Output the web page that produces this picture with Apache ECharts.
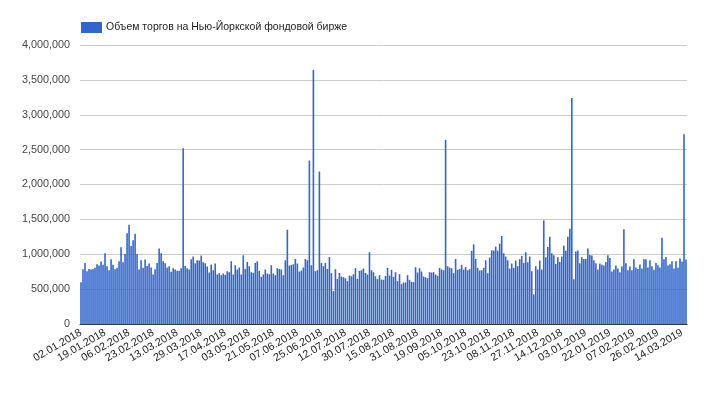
<!DOCTYPE html>
<html>
<head>
<meta charset="utf-8">
<script src="https://cdn.jsdelivr.net/npm/echarts@6/dist/echarts.min.js"></script>
<style>
html,body{margin:0;padding:0;background:#fff;}
#chart{width:717px;height:395px;}
</style>
</head>
<body>
<div id="chart"></div>
<script>
// Trading days: first session, number of sessions, market holidays (skipped)
const startDate = '2018-01-02';
const sessionCount = 303;
const holidays = ['2018-01-15','2018-02-19','2018-03-30','2018-05-28','2018-07-04','2018-09-03',
  '2018-11-22','2018-12-05','2018-12-25','2019-01-01','2019-01-21','2019-02-18'];

const seriesName = 'Объем торгов на Нью-Йоркской фондовой бирже';

const volume = [
  600000, 786000, 876000, 757000, 790000, 781000, 790000, 805000, 857000, 838000,
  895000, 848000, 1014000, 828000, 771000, 929000, 848000, 786000, 805000, 900000,
  1100000, 886000, 1005000, 1300000, 1424000, 1119000, 1200000, 1295000, 1005000, 781000,
  914000, 805000, 924000, 833000, 867000, 810000, 710000, 786000, 876000, 1081000,
  1014000, 900000, 871000, 810000, 828000, 748000, 800000, 781000, 762000, 762000,
  800000, 2520000, 833000, 800000, 781000, 929000, 967000, 871000, 914000, 910000,
  981000, 886000, 871000, 824000, 738000, 852000, 771000, 867000, 710000, 729000,
  700000, 724000, 705000, 757000, 743000, 900000, 710000, 843000, 781000, 810000,
  710000, 986000, 790000, 890000, 829000, 743000, 733000, 876000, 900000, 762000,
  676000, 710000, 781000, 724000, 714000, 843000, 724000, 700000, 800000, 790000,
  781000, 700000, 914000, 1352000, 838000, 848000, 857000, 933000, 867000, 752000,
  767000, 810000, 933000, 914000, 2343000, 843000, 3643000, 757000, 771000, 2186000,
  876000, 829000, 876000, 790000, 960000, 729000, 471000, 786000, 645000, 731000,
  681000, 671000, 657000, 614000, 695000, 686000, 714000, 800000, 648000, 762000,
  771000, 795000, 733000, 710000, 1029000, 771000, 743000, 686000, 643000, 700000,
  638000, 633000, 690000, 805000, 695000, 776000, 676000, 743000, 614000, 714000,
  571000, 595000, 595000, 700000, 633000, 605000, 600000, 814000, 738000, 800000,
  752000, 681000, 671000, 657000, 743000, 738000, 743000, 710000, 690000, 805000,
  781000, 771000, 2640000, 829000, 810000, 800000, 729000, 933000, 776000, 790000,
  848000, 781000, 817000, 771000, 786000, 1048000, 1143000, 933000, 805000, 767000,
  771000, 805000, 914000, 729000, 952000, 1057000, 1052000, 1110000, 1052000, 1152000,
  1262000, 1014000, 967000, 914000, 795000, 867000, 805000, 910000, 829000, 929000,
  976000, 876000, 1029000, 886000, 967000, 757000, 424000, 829000, 781000, 910000,
  781000, 1486000, 957000, 1105000, 1252000, 1014000, 986000, 862000, 957000, 890000,
  967000, 1124000, 1052000, 1252000, 1367000, 3240000, 643000, 1038000, 1052000, 871000,
  957000, 933000, 933000, 1081000, 990000, 981000, 914000, 871000, 781000, 867000,
  848000, 838000, 890000, 986000, 948000, 752000, 781000, 838000, 795000, 743000,
  826000, 1357000, 871000, 771000, 824000, 771000, 929000, 810000, 790000, 852000,
  795000, 929000, 929000, 810000, 914000, 829000, 776000, 876000, 843000, 810000,
  1238000, 929000, 962000, 838000, 857000, 900000, 795000, 900000, 805000, 938000,
  895000, 2720000, 924000
];

function pad(n){ return (n < 10 ? '0' : '') + n; }
function buildSessions(start, count, skip){
  const out = [];
  const d = new Date(start + 'T00:00:00Z');
  while (out.length < count){
    const wd = d.getUTCDay();
    const iso = d.getUTCFullYear() + '-' + pad(d.getUTCMonth()+1) + '-' + pad(d.getUTCDate());
    if (wd !== 0 && wd !== 6 && skip.indexOf(iso) < 0){
      out.push(pad(d.getUTCDate()) + '.' + pad(d.getUTCMonth()+1) + '.' + d.getUTCFullYear());
    }
    d.setUTCDate(d.getUTCDate() + 1);
  }
  return out;
}
const categories = buildSessions(startDate, sessionCount, holidays);

const FONT = 'Arial, "Liberation Sans", sans-serif';
const chart = echarts.init(document.getElementById('chart'), null, {renderer:'canvas'});
chart.setOption({
  animation: false,
  textStyle: { fontFamily: FONT },
  legend: {
    data: [seriesName],
    left: 76, top: 17,
    itemWidth: 21, itemHeight: 11, itemGap: 5,
    textStyle: { fontSize: 10.5, color: '#222', fontFamily: FONT, padding: [0, 0, 0, -1] },
    icon: 'rect'
  },
  grid: { left: 80, right: 30, top: 45, bottom: 71, containLabel: false },
  xAxis: {
    type: 'category',
    data: categories,
    boundaryGap: true,
    axisLine: { show: true, lineStyle: { color: '#333', width: 1 } },
    axisTick: { show: false },
    axisLabel: {
      interval: 11, rotate: 30, fontSize: 10.8, color: '#222', margin: 8,
      fontFamily: FONT
    }
  },
  yAxis: {
    type: 'value',
    min: 0, max: 4000000, interval: 500000,
    axisLine: { show: false },
    axisTick: { show: false },
    splitLine: { lineStyle: { color: '#cccccc', width: 1 } },
    axisLabel: {
      fontSize: 10.8, color: '#444', margin: 10,
      fontFamily: FONT,
      formatter: function(v){ return v.toString().replace(/\B(?=(\d{3})+(?!\d))/g, ','); }
    }
  },
  series: [{
    name: seriesName,
    type: 'bar',
    data: volume,
    barCategoryGap: '20%',
    itemStyle: { color: '#3366cc' }
  }]
});
</script>
</body>
</html>
